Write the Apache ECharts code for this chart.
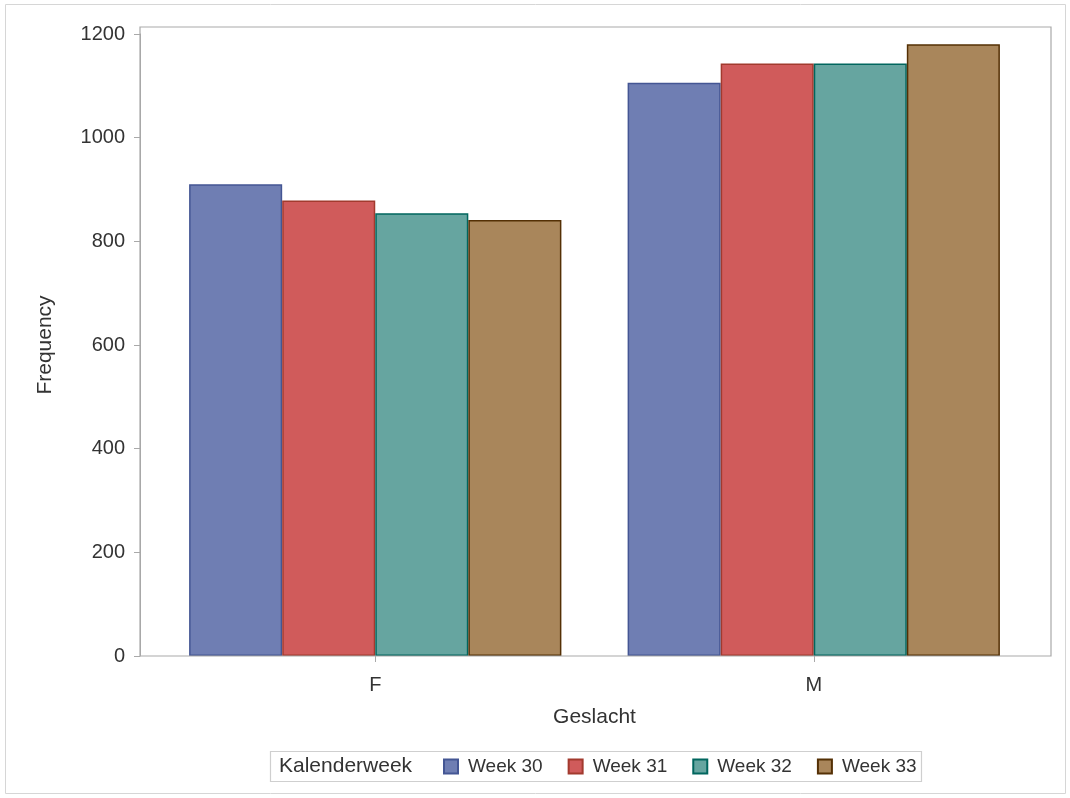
<!DOCTYPE html>
<html>
<head>
<meta charset="utf-8">
<script src="https://cdn.jsdelivr.net/npm/echarts@6/dist/echarts.min.js"></script>
<style>
html,body{margin:0;padding:0;background:#fff;}
#chart{width:1070px;height:798px;}
</style>
</head>
<body>
<div id="chart"></div>
<script>
const categories = ['F', 'M'];
const seriesNames = ['Week 30', 'Week 31', 'Week 32', 'Week 33'];
const week30 = [910, 1106];
const week31 = [879, 1143];
const week32 = [854, 1143];
const week33 = [841, 1180];
const yTicks = [0, 200, 400, 600, 800, 1000, 1200];
const legendTitle = 'Kalenderweek';
const xTitle = 'Geslacht';
const yTitle = 'Frequency';

const values = [week30, week31, week32, week33];
const fills = ['#6F7EB3', '#D05B5B', '#66A5A0', '#A9865B'];
const borders = ['#445694', '#A23A2E', '#01665E', '#543005'];
const font = 'Liberation Sans, Arial, sans-serif';
const textColor = '#333';
const frameColor = '#a9a9a9';

const chart = echarts.init(document.getElementById('chart'));
chart.setOption({
  animation: false,
  backgroundColor: '#fff',
  textStyle: { fontFamily: font },
  graphic: [
    { type: 'rect', shape: { x: 5.5, y: 4.5, width: 1060, height: 789 },
      style: { fill: 'none', stroke: '#d6d6d6', lineWidth: 1 }, z: 0 },
    { type: 'rect', shape: { x: 140, y: 27, width: 911, height: 629 },
      style: { fill: 'none', stroke: frameColor, lineWidth: 1.2 }, z: 10 },
    { type: 'rect', shape: { x: 270.5, y: 751.5, width: 651, height: 30 },
      style: { fill: '#fff', stroke: '#cfcfcf', lineWidth: 1.2 }, z: 0 },
    { type: 'text', style: { x: 279, y: 766, text: legendTitle, fill: textColor, font: '21px ' + font, textVerticalAlign: 'middle' }, z: 5 }
  ],
  legend: {
    data: seriesNames,
    left: 443,
    top: 757,
    itemWidth: 14,
    itemHeight: 14,
    itemGap: 25,
    padding: 0,
    icon: 'rect',
    textStyle: { fontSize: 19, color: textColor, fontFamily: font, padding: [0, 0, 0, 5] }
  },
  grid: [
    { left: 140, right: 19, top: 34, bottom: 142 },
    { left: 156, right: 37, top: 34, bottom: 142 }
  ],
  xAxis: [
    { type: 'category', gridIndex: 0, data: categories, show: false },
    { type: 'category', gridIndex: 1, data: categories,
      axisLine: { show: false },
      axisTick: { show: true, alignWithLabel: true, length: 6, lineStyle: { color: frameColor } },
      axisLabel: { fontSize: 20, color: textColor, margin: 19, fontFamily: font },
      name: xTitle, nameLocation: 'middle', nameGap: 51,
      nameTextStyle: { fontSize: 21, color: textColor, fontFamily: font } }
  ],
  yAxis: [
    { type: 'value', gridIndex: 0, min: yTicks[0], max: yTicks[yTicks.length - 1], interval: 200,
      axisLine: { show: true, lineStyle: { color: frameColor } },
      axisTick: { show: true, length: 6, lineStyle: { color: frameColor } },
      axisLabel: { fontSize: 20, color: textColor, margin: 15, fontFamily: font, formatter: v => String(v) },
      splitLine: { show: false },
      name: yTitle, nameLocation: 'middle', nameGap: 84,
      nameTextStyle: { fontSize: 21, color: textColor, fontFamily: font } },
    { type: 'value', gridIndex: 1, min: yTicks[0], max: yTicks[yTicks.length - 1], interval: 200, show: false, splitLine: { show: false } }
  ],
  series: seriesNames.map((n, i) => ({
    name: n,
    type: 'bar',
    xAxisIndex: 1,
    yAxisIndex: 1,
    data: values[i],
    barGap: '0%',
    barCategoryGap: '15.1%',
    itemStyle: { color: fills[i], borderColor: borders[i], borderWidth: 1.5 }
  }))
});
</script>
</body>
</html>
